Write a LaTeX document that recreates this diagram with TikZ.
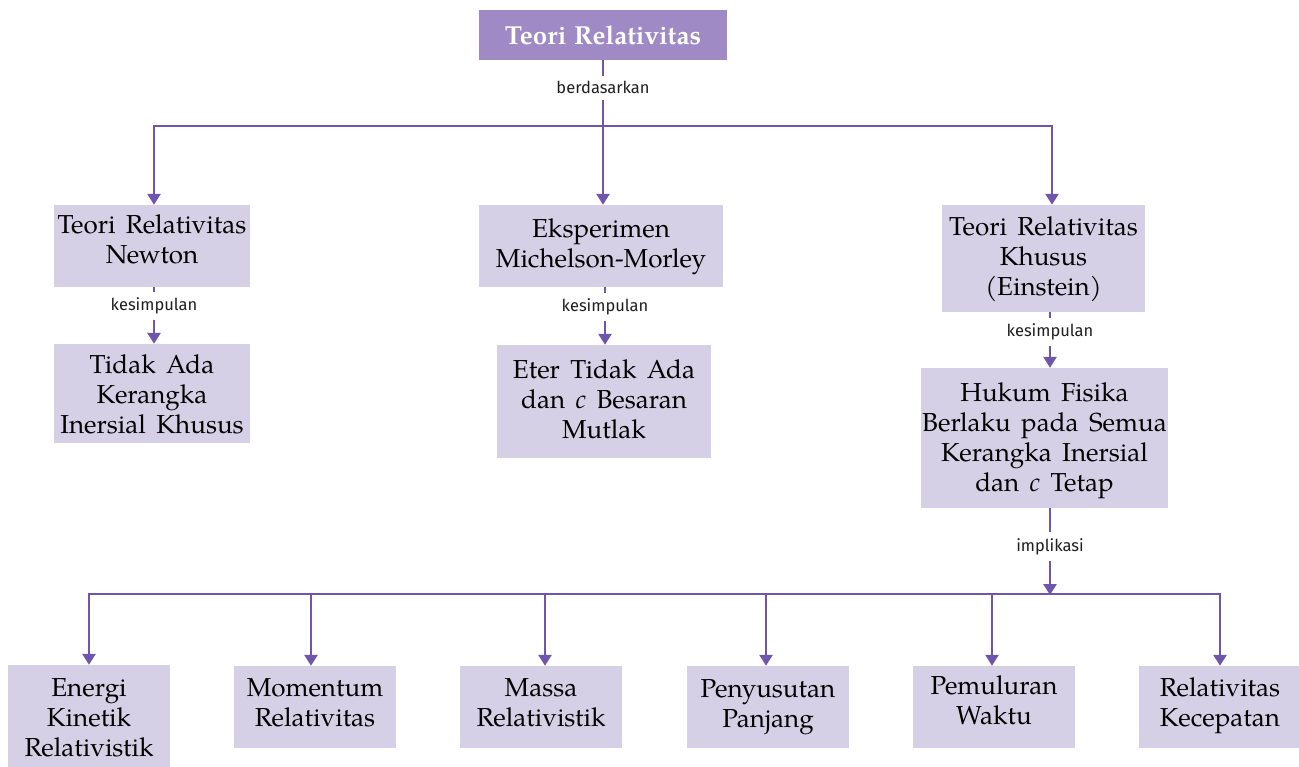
\documentclass[tikz,border=0pt]{standalone}
\usepackage{fontspec}
\setmainfont{TeX Gyre Pagella}[WordSpace=1.6, BoldFeatures={WordSpace=1.15}]
\newfontfamily\labelfont{Fira Sans}
\usetikzlibrary{arrows.meta}
\definecolor{linkcol}{HTML}{7055AD}
\definecolor{boxcol}{HTML}{D6D0E7}
\definecolor{headcol}{HTML}{9F8AC6}
% box text with its own padding: #1 above the capitals of the first line,
% #2 below the baseline of the last line
\newcommand\padtext[3]{\rule{0pt}{\dimexpr18pt+#1pt\relax}#3\rule[-#2pt]{0pt}{#2pt}}
\tikzset{
  concept/.style={fill=boxcol, inner sep=0pt, align=center,
    font=\fontsize{26}{30}\selectfont},
  headbox/.style={fill=headcol, text=white, inner sep=0pt, align=center,
    font=\bfseries\fontsize{26}{30}\selectfont},
  link/.style={draw=linkcol, line width=2.6pt},
  arrowlink/.style={link, -{Triangle[width=13pt,length=11pt]}},
  linklabel/.style={fill=white, inner xsep=3pt, inner ysep=6pt,
    font=\labelfont\fontsize{16.5}{19}\selectfont, text=black!88},
}
\begin{document}
\begin{tikzpicture}[x=1pt, y=-1pt]
\useasboundingbox (0,0) rectangle (1299,767);

% top concept
\node[headbox, minimum width=248pt, minimum height=50pt] (root) at (603,35) {Teori Relativitas};

% first level
\node[concept, minimum width=196pt] (newton) at (152,246)
  {\padtext{11}{23}{Teori Relativitas\\Newton}};
\node[concept, minimum width=244pt] (mm) at (601,246)
  {\padtext{15}{19}{Eksperimen\\Michelson-Morley}};
\node[concept, minimum width=203pt] (einstein) at (1043.5,258.5)
  {\padtext{13}{16}{Teori Relativitas\\Khusus\\(Einstein)}};

% conclusions
\node[concept, minimum width=196pt] (noframe) at (152,393.5)
  {\padtext{11}{10}{Tidak Ada\\Kerangka\\Inersial Khusus}};
\node[concept, minimum width=214pt] (noether) at (604,401.5)
  {\padtext{15}{20}{Eter Tidak Ada\\dan \textit{c} Besaran\\Mutlak}};
\node[concept, minimum width=247pt] (laws) at (1044.5,438)
  {\padtext{15}{17}{Hukum Fisika\\Berlaku pada Semua\\Kerangka Inersial\\dan \textit{c} Tetap}};

% implications
\node[concept, minimum width=162pt] (ek) at (89,716)
  {\padtext{13}{11}{Energi\\Kinetik\\Relativistik}};
\node[concept, minimum width=162pt] (mom) at (315,707)
  {\padtext{12}{22}{Momentum\\Relativitas}};
\node[concept, minimum width=162pt] (mass) at (541,707)
  {\padtext{12}{22}{Massa\\Relativistik}};
\node[concept, minimum width=162pt] (len) at (768,707)
  {\padtext{13}{21}{Penyusutan\\Panjang}};
\node[concept, minimum width=162pt] (time) at (994,707)
  {\padtext{10}{24}{Pemuluran\\Waktu}};
\node[concept, minimum width=162pt] (vel) at (1220,707)
  {\padtext{12}{22}{Relativitas\\Kecepatan}};

% upper bus
\coordinate (busA) at (154,126);
\coordinate (busB) at (603,126);
\coordinate (busC) at (1052,126);
\draw[link] (root.south) -- node[linklabel, pos=0.42] {berdasarkan} (busB);
\draw[link] ([xshift=-1.3pt]busA) -- ([xshift=1.3pt]busC);
\draw[arrowlink] (busA) -- (busA |- newton.north);
\draw[arrowlink] (busB) -- (busB |- mm.north);
\draw[arrowlink] (busC) -- (busC |- einstein.north);

% conclusion links
\coordinate (kA) at (154,0);
\coordinate (kB) at (605,0);
\coordinate (kC) at (1050,0);
\draw[arrowlink] (kA |- newton.south) -- node[linklabel, pos=0.33] {kesimpulan} (kA |- noframe.north);
\draw[arrowlink] (kB |- mm.south) -- node[linklabel, pos=0.34] {kesimpulan} (kB |- noether.north);
\draw[arrowlink] (kC |- einstein.south) -- node[linklabel, pos=0.36] {kesimpulan} (kC |- laws.north);

% lower bus
\coordinate (bus1) at (89,594);
\coordinate (bus2) at (311,594);
\coordinate (bus3) at (545,594);
\coordinate (bus4) at (766,594);
\coordinate (bus5) at (992,594);
\coordinate (bus6) at (1220,594);
\coordinate (busI) at (1050,594);
\draw[arrowlink] (kC |- laws.south) -- node[linklabel, pos=0.44] {implikasi} ([yshift=-1pt]busI);
\draw[link] ([xshift=-1.3pt]bus1) -- ([xshift=1.3pt]bus6);
\draw[arrowlink] (bus1) -- (bus1 |- ek.north);
\draw[arrowlink] (bus2) -- (bus2 |- mom.north);
\draw[arrowlink] (bus3) -- (bus3 |- mass.north);
\draw[arrowlink] (bus4) -- (bus4 |- len.north);
\draw[arrowlink] (bus5) -- (bus5 |- time.north);
\draw[arrowlink] (bus6) -- (bus6 |- vel.north);
\end{tikzpicture}
\end{document}
